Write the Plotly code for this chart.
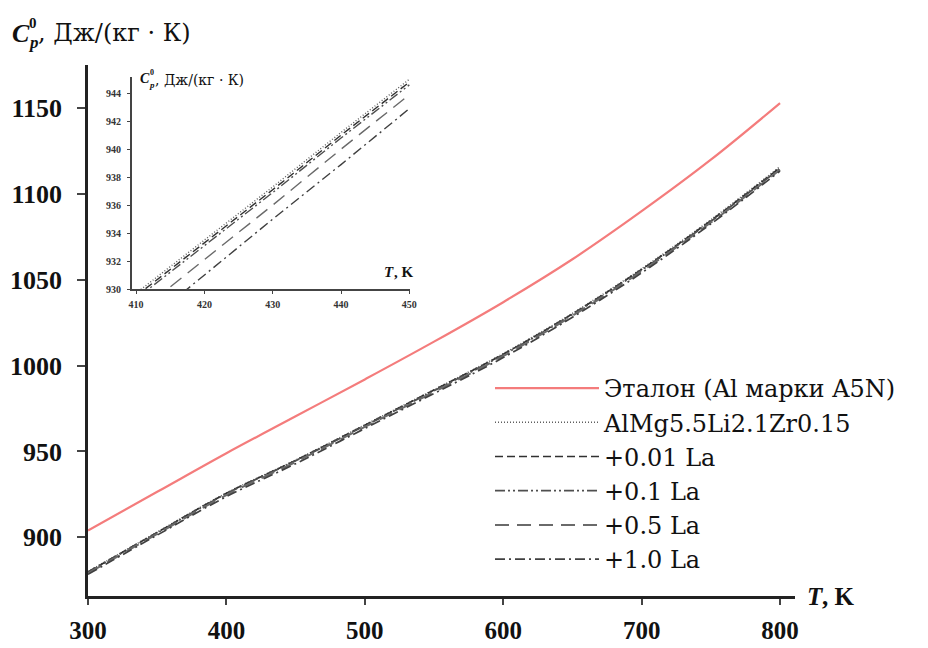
import plotly.graph_objects as go

# Temperature grid, K
T = [300, 350, 400, 450, 500, 550, 600, 650, 700, 750, 800]

# Specific heat capacity, J/(kg*K)
etalon = [904.0, 926.5, 949.0, 970.5, 992.0, 1014.0, 1037.0, 1062.0, 1090.0, 1120.0, 1153.0]
alloy_base = [880.0, 903.0, 925.8, 945.0, 965.5, 986.0, 1007.0, 1030.5, 1056.5, 1085.0, 1116.0]
la_001 = [879.8, 902.8, 925.6, 944.8, 965.3, 985.8, 1006.7, 1030.2, 1056.1, 1084.5, 1115.4]
la_01 = [879.6, 902.6, 925.4, 944.6, 965.0, 985.4, 1006.3, 1029.8, 1055.7, 1084.1, 1114.9]
la_05 = [879.0, 902.0, 924.6, 943.9, 964.3, 984.7, 1005.6, 1029.1, 1055.0, 1083.4, 1114.2]
la_10 = [878.4, 901.3, 923.7, 942.9, 963.4, 983.8, 1004.7, 1028.2, 1054.1, 1082.6, 1113.4]

# Zoomed range 410-450 K
T_in = [410, 420, 430, 440, 450]
alloy_base_in = [929.7, 933.5, 937.3, 941.2, 945.0]
la_001_in = [929.5, 933.3, 937.1, 941.0, 944.8]
la_01_in = [929.3, 933.1, 936.9, 940.8, 944.6]
la_05_in = [928.2, 932.1, 936.0, 940.0, 943.9]
la_10_in = [927.0, 931.0, 935.0, 938.9, 942.9]

x_ticks = [300, 400, 500, 600, 700, 800]
y_ticks = [900, 950, 1000, 1050, 1100, 1150]
x_ticks_in = [410, 420, 430, 440, 450]
y_ticks_in = [930, 932, 934, 936, 938, 940, 942, 944]

names = ["Эталон (Al марки A5N)", "AlMg5.5Li2.1Zr0.15", "+0.01 La", "+0.1 La", "+0.5 La", "+1.0 La"]

styles = [
    dict(color="#f47c7c", width=2.2, dash="solid"),
    dict(color="#5f5f5f", width=1.6, dash="1px,2px"),
    dict(color="#303030", width=1.7, dash="8px,4px"),
    dict(color="#4f4f4f", width=1.8, dash="10px,3px,2px,3px,2px,3px"),
    dict(color="#6a6a6a", width=2.0, dash="14px,8px"),
    dict(color="#404040", width=1.7, dash="10px,4px,2px,4px"),
]

main_series = [etalon, alloy_base, la_001, la_01, la_05, la_10]
inset_series = [None, alloy_base_in, la_001_in, la_01_in, la_05_in, la_10_in]

fig = go.Figure()

for name, ys, st in zip(names, main_series, styles):
    fig.add_trace(go.Scatter(
        x=T, y=ys, mode="lines", name=name, line=dict(shape="spline", **st),
        xaxis="x", yaxis="y",
    ))

for ys, st in zip(inset_series, styles):
    if ys is None:
        continue
    fig.add_trace(go.Scatter(
        x=T_in, y=ys, mode="lines", showlegend=False,
        line=dict(color=st["color"], width=1.4, dash=st["dash"]),
        xaxis="x2", yaxis="y2",
    ))

W, H = 928, 648


def px(x):
    return x / W


def py(y):
    return 1 - y / H


serif = "Liberation Serif"
wide_serif = "DejaVu Serif"
tick_main = dict(family=serif, size=26, color="#111", weight="bold")
tick_x = dict(family=serif, size=25, color="#111", weight="bold")
tick_in = dict(family=serif, size=10, color="#333", weight="bold")

fig.update_layout(
    width=W, height=H,
    margin=dict(l=0, r=0, t=0, b=0, autoexpand=False),
    paper_bgcolor="white", plot_bgcolor="white",
    showlegend=True,
    legend=dict(
        x=px(490), y=py(366), xanchor="left", yanchor="top",
        font=dict(family=wide_serif, size=24, color="#111"),
        itemwidth=104, bgcolor="rgba(0,0,0,0)",
    ),
    xaxis=dict(
        domain=[px(88), px(795)], range=[300, 810.8],
        showline=True, linewidth=2.5, linecolor="#222",
        ticks="outside", ticklen=6, tickwidth=1.5, tickcolor="#444",
        tickvals=x_ticks, tickfont=tick_x, ticklabelstandoff=4,
        showgrid=False, zeroline=False, anchor="y", automargin=False,
    ),
    yaxis=dict(
        domain=[py(596), py(65)], range=[865.8, 1175.2],
        showline=True, linewidth=2.5, linecolor="#222",
        ticks="outside", ticklen=8, tickwidth=1.5, tickcolor="#444",
        tickvals=y_ticks, tickfont=tick_main, ticklabelstandoff=10,
        showgrid=False, zeroline=False, anchor="x", automargin=False,
    ),
    xaxis2=dict(
        domain=[px(132), px(410)], range=[409.4, 450.1],
        showline=True, linewidth=2, linecolor="#444",
        ticks="outside", ticklen=3, tickwidth=1, tickcolor="#444",
        tickvals=x_ticks_in, tickfont=tick_in, ticklabelstandoff=2,
        showgrid=False, zeroline=False, anchor="y2", automargin=False,
    ),
    yaxis2=dict(
        domain=[py(289), py(76.5)], range=[930, 945.2],
        showline=True, linewidth=2, linecolor="#444",
        ticks="outside", ticklen=3, tickwidth=1, tickcolor="#444",
        tickvals=y_ticks_in, tickfont=tick_in, ticklabelstandoff=4,
        showgrid=False, zeroline=False, anchor="x2", automargin=False,
    ),
)


def label(x, y, text, size, anchor="left", bold=False, italic=False, family=serif):
    fig.add_annotation(
        x=px(x), y=py(y), xref="paper", yref="paper", text=text, showarrow=False,
        xanchor=anchor, yanchor="middle", borderpad=0,
        font=dict(family=family, size=size, color="#111",
                  weight="bold" if bold else "normal",
                  style="italic" if italic else "normal"),
    )


# Main axis titles
label(11, 33, "C", 26, bold=True, italic=True)
label(28, 23, "0", 15, bold=True)
label(27, 43, "p", 17, bold=True, italic=True)
label(37, 33, ", Дж/(кг · К)", 24, family=wide_serif)
label(806, 596, "T", 25, bold=True, italic=True)
label(821, 596, ", K", 25, bold=True)

# Inset axis titles
label(139, 79, "C", 14, bold=True, italic=True)
label(149, 73, "0", 8, bold=True)
label(148, 85, "p", 9, bold=True, italic=True)
label(154, 80, ", Дж/(кг · К)", 14, family=wide_serif)
label(383, 272, "T", 15, bold=True, italic=True)
label(393, 272, ", K", 15, bold=True)

fig.write_html("out.html")
